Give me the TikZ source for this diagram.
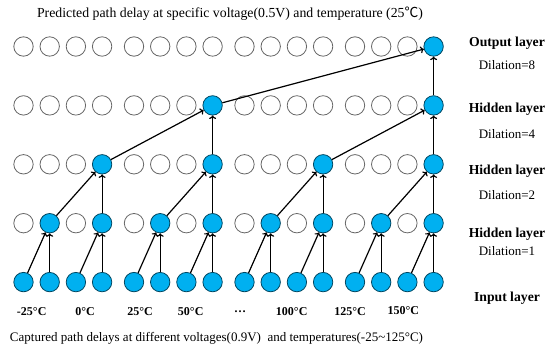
\documentclass[tikz,border=0pt]{standalone}
\usepackage{fontspec}
\setmainfont{Liberation Serif}
\newfontfamily\cjk{Noto Sans CJK SC}
\usetikzlibrary{arrows.meta}
\definecolor{fillblue}{HTML}{00B0F0}
\begin{document}
\begin{tikzpicture}[x=1pt,y=-1pt,
  emptyc/.style={circle,draw=black!60,line width=0.8pt,minimum size=19.4pt,inner sep=0pt},
  fullc/.style={emptyc,fill=fillblue,draw=black!60!fillblue},
  conn/.style={line width=1.2pt,-{To[length=3.5pt,width=7pt]}},
  txt/.style={font=\fontsize{13}{15}\selectfont},
  titletxt/.style={font=\fontsize{13.8}{16}\selectfont},
  boldtxt/.style={font=\bfseries\fontsize{13.7}{16}\selectfont},
  templbl/.style={font=\bfseries\fontsize{12}{14}\selectfont}]
\useasboundingbox (0,0) rectangle (550,347);
\foreach \r in {0,...,4}{
  \foreach \i in {0,...,15}{
    \pgfmathsetmacro\xx{23.5+floor(\i/4)*110.5+mod(\i,4)*26.2}
    \pgfmathsetmacro\yy{46.5+\r*58.9}
    \pgfmathtruncatemacro\f{mod(\i+1,2^(4-\r))==0}
    \ifnum\f=1
      \node[fullc] (n-\r-\i) at (\xx,\yy) {};
    \else
      \node[emptyc] (n-\r-\i) at (\xx,\yy) {};
    \fi
  }
}
\foreach \r/\d/\lst in {3/1/{1,3,5,7,9,11,13,15},2/2/{3,7,11,15},1/4/{7,15},0/8/{15}}{
  \pgfmathtruncatemacro\rb{\r+1}
  \foreach \i in \lst{
    \pgfmathtruncatemacro\j{\i-\d}
    \draw[conn] (n-\rb-\j) -- (n-\r-\i);
    \draw[conn] (n-\rb-\i) -- (n-\r-\i);
  }
}
\node[titletxt] (title) at (230,13.5) {Predicted path delay at specific voltage(0.5V) and temperature (25{\cjk ℃})};
\node[boldtxt] (l0) at (507,43.5) {Output layer};
\node[txt] (d0) at (507,65) {Dilation=8};
\node[boldtxt] (l1) at (507,109.5) {Hidden layer};
\node[txt] (d1) at (507,134) {Dilation=4};
\node[boldtxt] (l2) at (507,171.5) {Hidden layer};
\node[txt] (d2) at (507,195) {Dilation=2};
\node[boldtxt] (l3) at (507,234) {Hidden layer};
\node[txt] (d3) at (507,251.5) {Dilation=1};
\node[boldtxt] (l4) at (507,298.5) {Input layer};
\node[templbl] (t1) at (31.7,311.5) {-25°C};
\node[templbl] (t2) at (85,311.5) {0°C};
\node[templbl] (t3) at (140,311.5) {25°C};
\node[templbl] (t4) at (190.7,311.5) {50°C};
\node[templbl] (t5) at (240,311.5) {\ldots};
\node[templbl] (t6) at (291.7,311.5) {100°C};
\node[templbl] (t7) at (350,311.5) {125°C};
\node[templbl] (t8) at (403.3,310.5) {150°C};
\node[txt] (caption) at (216.5,338) {Captured path delays at different voltages(0.9V)\ \ and temperatures(-25\textasciitilde125°C)};
\end{tikzpicture}
\end{document}
